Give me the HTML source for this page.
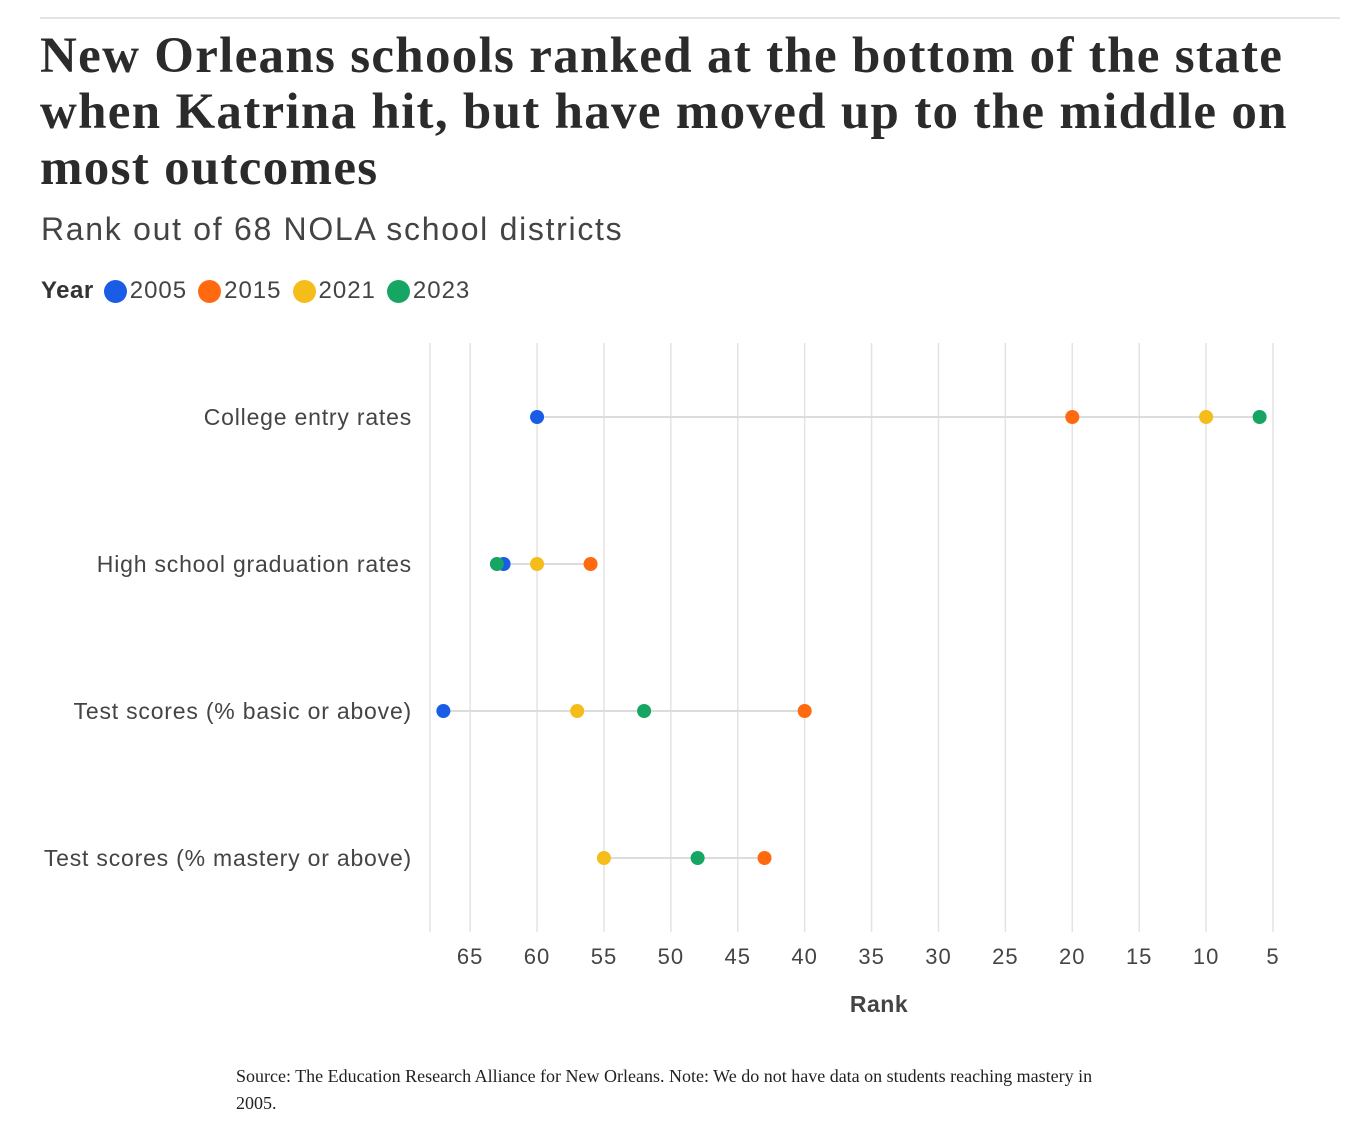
<!DOCTYPE html>
<html><head><meta charset="utf-8"><style>
body{margin:0;background:#fff;width:1360px;height:1144px;position:relative;overflow:hidden;font-family:"Liberation Sans",sans-serif;color:#333}
.rule{position:absolute;left:40px;top:17px;width:1300px;height:2px;background:#e4e4e4}
h1{position:absolute;left:40px;top:28px;margin:0;font-family:"Liberation Serif",serif;font-weight:bold;font-size:51px;line-height:56px;color:#2b2b2b;letter-spacing:1.3px;width:1270px}
.sub{position:absolute;left:41px;top:211px;font-size:32px;color:#444;letter-spacing:1.7px}
.legend{position:absolute;left:41px;top:277px;font-size:24px;color:#444;display:flex;align-items:center;letter-spacing:1px}
.legend b{margin-right:10px;color:#333;letter-spacing:0.5px}
.dot{display:inline-block;width:23px;height:23px;border-radius:50%;margin-right:3px}
.item{display:flex;align-items:center;margin-right:11px}
.src{position:absolute;left:236px;top:1063px;width:890px;font-family:"Liberation Serif",serif;font-size:18px;line-height:27px;color:#222}
svg{position:absolute;left:0;top:0}
</style></head><body>
<div class="rule"></div>
<h1>New Orleans schools ranked at the bottom of the state when Katrina hit, but have moved up to the middle on most outcomes</h1>
<div class="sub">Rank out of 68 NOLA school districts</div>
<div class="legend"><b>Year</b>
<span class="item"><span class="dot" style="background:#1a5ce6"></span>2005</span>
<span class="item"><span class="dot" style="background:#ff6a10"></span>2015</span>
<span class="item"><span class="dot" style="background:#f5bd1a"></span>2021</span>
<span class="item"><span class="dot" style="background:#16a562"></span>2023</span>
</div>
<svg id="chart" width="1360" height="1144"></svg>
<div class="src">Source: The Education Research Alliance for New Orleans. Note: We do not have data on students reaching mastery in 2005.</div>
<script>
const categories=["College entry rates","High school graduation rates","Test scores (% basic or above)","Test scores (% mastery or above)"];
const years=["2005","2015","2021","2023"];
const s2005=[60,62.5,67,null];
const s2015=[20,56,40,43];
const s2021=[10,60,57,55];
const s2023=[6,63,52,48];
const ticks=[65,60,55,50,45,40,35,30,25,20,15,10,5];
const colors=["#1a5ce6","#ff6a10","#f5bd1a","#16a562"];
const series=[s2005,s2015,s2021,s2023];
const NS="http://www.w3.org/2000/svg";
const svg=document.getElementById('chart');
const x=v=>430+(68-v)*(1273-430)/63;
const y=i=>417+i*147;
function mk(t,a,p){const e=document.createElementNS(NS,t);for(const k in a)e.setAttribute(k,a[k]);(p||svg).appendChild(e);return e;}
[68,...ticks].forEach(t=>{
 const l=mk('line',{x1:x(t),x2:x(t),y1:343,y2:932,stroke:'#e3e3e3','stroke-width':1.5});
 
 
});
ticks.forEach(t=>{
 const tx=mk('text',{x:x(t),y:964,'text-anchor':'middle','font-size':22,fill:'#444','letter-spacing':1});
 tx.textContent=t;
 
 
});
const at=mk('text',{x:879,y:1012,'text-anchor':'middle','font-size':23,'font-weight':'bold',fill:'#444','letter-spacing':0.5});
at.textContent='Rank';


categories.forEach((c,i)=>{
 const lb=mk('text',{x:412,y:y(i)+8,'text-anchor':'end','font-size':23,fill:'#444','letter-spacing':0.8});
 lb.textContent=c;
 
 
 const vals=series.map(s=>s[i]).filter(v=>v!=null);
 const ln=mk('line',{x1:x(Math.max(...vals)),x2:x(Math.min(...vals)),y1:y(i),y2:y(i),stroke:'#dcdcdc','stroke-width':2});
 
 
});
series.forEach((s,k)=>{
 s.forEach((v,i)=>{
  if(v==null)return;
  const d=mk('circle',{cx:x(v),cy:y(i),r:7,fill:colors[k]});
  
  
 });
});
</script>
</body></html>
